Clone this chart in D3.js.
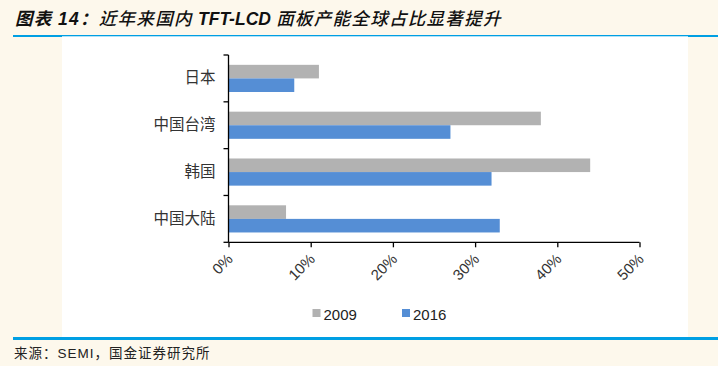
<!DOCTYPE html>
<html><head><meta charset="utf-8">
<script src="https://cdn.jsdelivr.net/npm/d3@7"></script>
<style>
html,body{margin:0;padding:0;background:#fdf8ec;}
svg{display:block;}
</style></head>
<body>
<script>
const categories = ["日本", "中国台湾", "韩国", "中国大陆"];
const seriesNames = ["2009", "2016"];
const values2009 = [0.11, 0.38, 0.44, 0.07];
const values2016 = [0.08, 0.27, 0.32, 0.33];
const xTicks = [0, 0.1, 0.2, 0.3, 0.4, 0.5];
const colors = ["#b2b2b2", "#558ed5"];

const W = 718, H = 366;
const svg = d3.select("body").append("svg").attr("width", W).attr("height", H);
svg.append("rect").attr("width", W).attr("height", H).attr("fill", "#fdf8ec");
// white plot panel
svg.append("rect").attr("x", 62).attr("y", 36).attr("width", 626).attr("height", 301).attr("fill", "#ffffff");
// top rule
svg.append("rect").attr("x", 13).attr("y", 35).attr("width", 705).attr("height", 1.3).attr("fill", "#009fe3");
svg.append("rect").attr("x", 13).attr("y", 35).attr("width", 49).attr("height", 2).attr("fill", "#009fe3");
svg.append("rect").attr("x", 688).attr("y", 35).attr("width", 30).attr("height", 2).attr("fill", "#009fe3");
// bottom rule
svg.append("rect").attr("x", 13).attr("y", 337).attr("width", 705).attr("height", 3).attr("fill", "#009fe3");

// title
const title = svg.append("text").attr("x", 15).attr("y", 25)
  .attr("font-size", 17.5).attr("font-style", "italic").attr("fill", "#111").attr("letter-spacing", 1.3)
  .attr("font-family", "'Noto Sans CJK SC', 'Liberation Sans', sans-serif");
title.append("tspan").attr("font-weight", 700).text("图表 ");
title.append("tspan").attr("font-weight", 700).attr("font-family", "'Liberation Sans', Arial, sans-serif").text("14");
title.append("tspan").attr("font-weight", 700).text("：");
title.append("tspan").attr("font-weight", 500).text("近年来国内 ");
title.append("tspan").attr("font-weight", 700).attr("letter-spacing", 0).attr("font-family", "'Liberation Sans', Arial, sans-serif").text("TFT-LCD");
title.append("tspan").attr("font-weight", 500).text(" 面板产能全球占比显著提升");

// footer
const foot = svg.append("text").attr("x", 14).attr("y", 358).attr("font-size", 13.5).attr("fill", "#222")
  .attr("letter-spacing", 1)
  .attr("font-family", "'Noto Sans CJK SC', sans-serif");
foot.append("tspan").text("来源：");
foot.append("tspan").attr("font-family", "'Liberation Sans', Arial, sans-serif").text("SEMI");
foot.append("tspan").text("，国金证券研究所");

// chart
const x = d3.scaleLinear().domain([0, 0.5]).range([228.5, 639.5]);
const y = d3.scaleBand().domain(categories).range([55, 242.3]).paddingInner(0.42).paddingOuter(0.21);
const ySub = d3.scaleBand().domain(seriesNames).range([0, y.bandwidth()]);

const data = categories.map((c, i) => ({c, vals: [values2009[i], values2016[i]]}));
const g = svg.append("g");
data.forEach(d => {
  d.vals.forEach((v, j) => {
    g.append("rect")
      .attr("x", x(0)).attr("y", y(d.c) + ySub(seriesNames[j]))
      .attr("width", x(v) - x(0)).attr("height", ySub.bandwidth())
      .attr("fill", colors[j]);
  });
});

// x axis
const xAxis = svg.append("g").attr("transform", "translate(0,242.3)")
  .call(d3.axisBottom(x).tickValues(xTicks).tickSize(5).tickFormat(d3.format(".0%")));
xAxis.select(".domain").attr("stroke", "#000").attr("stroke-width", 1.3).attr("d", "M228.5,0H639.5");
xAxis.selectAll(".tick line").attr("stroke", "#000").attr("stroke-width", 1.3);
xAxis.selectAll(".tick text")
  .attr("font-family", "'Liberation Sans', Arial, sans-serif").attr("font-size", 15).attr("fill", "#333")
  .attr("text-anchor", "end").attr("y", 0).attr("dy", "0.35em")
  .attr("transform", "translate(1,14) rotate(-45)");

// y axis
const yAxis = svg.append("g").attr("transform", "translate(228.5,0)")
  .call(d3.axisLeft(y).tickSize(0).tickPadding(13));
yAxis.select(".domain").attr("stroke", "#000").attr("stroke-width", 1.3).attr("d", "M0,55V242.3");
yAxis.selectAll(".tick text")
  .attr("font-family", "'Noto Sans CJK SC', sans-serif").attr("font-size", 15.5).attr("fill", "#333");
// category boundary ticks
const bounds = d3.range(categories.length + 1).map(i => 55 + i * (242.3 - 55) / categories.length);
svg.append("g").selectAll("line").data(bounds).join("line")
  .attr("x1", 223.5).attr("x2", 228.5).attr("y1", d => d).attr("y2", d => d)
  .attr("stroke", "#000").attr("stroke-width", 1.3);

// legend
const leg = svg.append("g");
const legX = [312.5, 402];
seriesNames.forEach((s, j) => {
  leg.append("rect").attr("x", legX[j]).attr("y", 309).attr("width", 8).attr("height", 8).attr("fill", colors[j]);
  leg.append("text").attr("x", legX[j] + 11).attr("y", 319.5)
    .attr("font-family", "'Liberation Sans', Arial, sans-serif").attr("font-size", 15).attr("fill", "#222")
    .text(s);
});
</script>
</body></html>
